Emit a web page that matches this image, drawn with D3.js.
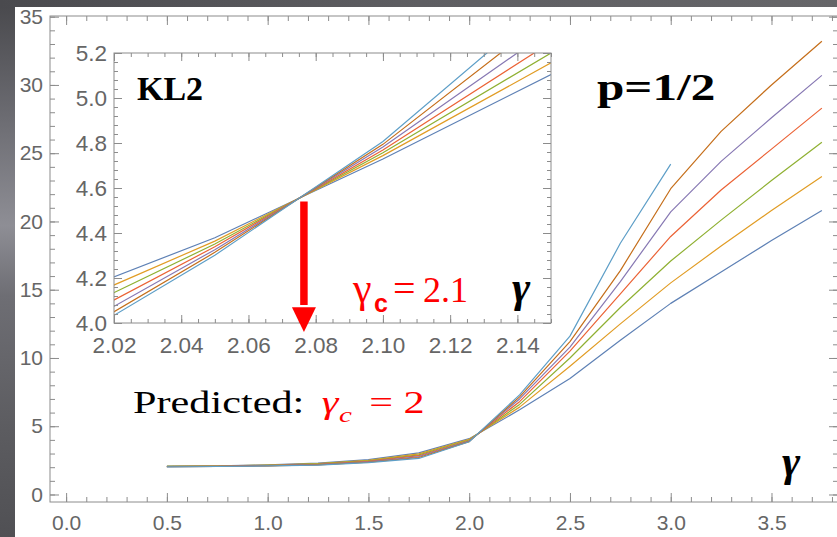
<!DOCTYPE html>
<html>
<head>
<meta charset="utf-8">
<script src="https://cdn.jsdelivr.net/npm/d3@7"></script>
<style>
  body { margin: 0; background: #5a5a5e; }
  svg { display: block; }
</style>
</head>
<body>
<script>
// ---- data ----
const gammaMain = [0.5, 0.75, 1.0, 1.25, 1.5, 1.75, 2.0, 2.25, 2.5, 2.75, 3.0, 3.25, 3.5, 3.75];
const series1 = [2.08, 2.10, 2.18, 2.30, 2.55, 3.05, 4.09, 6.20, 8.50, 11.3, 14.0, 16.3, 18.6, 20.8];
const series2 = [2.07, 2.09, 2.16, 2.27, 2.50, 2.98, 4.04, 6.40, 9.40, 12.5, 15.5, 18.2, 20.8, 23.3];
const series3 = [2.06, 2.08, 2.14, 2.24, 2.46, 2.90, 3.99, 6.60, 10.0, 13.7, 17.1, 20.1, 23.0, 25.8];
const series4 = [2.05, 2.07, 2.12, 2.21, 2.42, 2.84, 3.94, 6.80, 10.5, 14.7, 18.9, 22.3, 25.3, 28.3];
const series5 = [2.04, 2.06, 2.11, 2.19, 2.39, 2.78, 3.91, 7.00, 10.8, 15.6, 20.7, 24.4, 27.6, 30.7];
const series6 = [2.04, 2.05, 2.10, 2.17, 2.36, 2.71, 3.87, 7.15, 11.2, 16.4, 22.4, 26.6, 30.0, 33.2];
const series7 = [2.03, 2.05, 2.09, 2.15, 2.33, 2.64, 3.86, 7.30, 11.6, 18.4, 24.2];

// inset (KL2 zoom near the crossing)
const gammaInset = [2.0, 2.05, 2.10, 2.15];
const inset1 = [4.089, 4.379, 4.729, 5.104];
const inset2 = [4.039, 4.364, 4.744, 5.156];
const inset3 = [3.991, 4.351, 4.757, 5.200];
const inset4 = [3.944, 4.339, 4.769, 5.248];
const inset5 = [3.906, 4.326, 4.782, 5.305];
const inset6 = [3.874, 4.314, 4.794, 5.374];
const inset7 = [3.856, 4.301, 4.807, 5.442];

// tick labels
const mainXTicks = [0, 0.5, 1, 1.5, 2, 2.5, 3, 3.5];
const mainYTicks = [0, 5, 10, 15, 20, 25, 30, 35];
const insetXTicks = [2.02, 2.04, 2.06, 2.08, 2.10, 2.12, 2.14];
const insetYTicks = [4.0, 4.2, 4.4, 4.6, 4.8, 5.0, 5.2];

const colors = ["#5E81B5", "#E19C24", "#8FB032", "#EB6235", "#8778B3", "#C56E1A", "#5D9EC7"];

const mainSeries = [series1, series2, series3, series4, series5, series6, series7];
const insetSeries = [inset1, inset2, inset3, inset4, inset5, inset6, inset7];

// ---- svg ----
const dims = { width: 837, height: 537 };
const svg = d3.select("body").append("svg")
  .attr("width", dims.width)
  .attr("height", dims.height);

const defs = svg.append("defs");

// slide background (dark gradient)
const bg = defs.append("linearGradient").attr("id", "bg")
  .attr("x1", 0).attr("y1", 0).attr("x2", 0).attr("y2", 1);
[[0, "#48484c"], [0.22, "#6c6c72"], [0.42, "#8e8e95"], [0.55, "#6e6e74"], [0.8, "#5c5c60"], [1, "#505054"]]
  .forEach(s => bg.append("stop").attr("offset", s[0]).attr("stop-color", s[1]));
const bgTop = defs.append("linearGradient").attr("id", "bgTop")
  .attr("x1", 0).attr("y1", 0).attr("x2", 1).attr("y2", 0);
[[0, "#4a4a4e"], [0.5, "#5e5e62"], [1, "#666669"]]
  .forEach(s => bgTop.append("stop").attr("offset", s[0]).attr("stop-color", s[1]));

svg.append("rect").attr("width", dims.width).attr("height", dims.height).attr("fill", "url(#bg)");
svg.append("rect").attr("width", dims.width).attr("height", 7).attr("fill", "url(#bgTop)");
svg.append("rect").attr("x", 15).attr("y", 7)
  .attr("width", dims.width - 15).attr("height", dims.height - 7).attr("fill", "#fff");

// ---- scales ----
const main = { left: 50, right: 838, top: 16, bottom: 502 };
const x = d3.scaleLinear().domain([-0.08, 3.83]).range([main.left, main.right]);
const y = d3.scaleLinear().domain([-0.55, 35.05]).range([main.bottom, main.top]);

const ins = { left: 114, right: 551, top: 53, bottom: 323 };
const xi = d3.scaleLinear().domain([2.02, 2.15]).range([ins.left, ins.right]);
const yi = d3.scaleLinear().domain([4.0, 5.2]).range([ins.bottom, ins.top]);

// mathematica-like frame: inward ticks on all four sides
function frame(g, box, sx, sy, o) {
  const frameCol = "#8c8c8c";
  const put = (axis, tx, ty) => {
    const a = g.append("g").attr("transform", `translate(${tx},${ty})`).call(axis);
    a.select(".domain").remove();
    a.selectAll("line").attr("stroke", frameCol).attr("stroke-width", 1);
    a.selectAll("text")
      .attr("fill", "#666")
      .style("font-family", "'Liberation Sans', Arial, sans-serif")
      .style("font-size", o.fontSize + "px");
    return a;
  };
  put(d3.axisBottom(sx).tickValues(o.xMinor).tickSize(-o.minor).tickFormat(""), 0, box.bottom);
  put(d3.axisBottom(sx).tickValues(o.xMajor).tickSize(-o.major).tickPadding(o.xPad).tickFormat(o.xFmt), 0, box.bottom);
  put(d3.axisTop(sx).tickValues(o.xMinor).tickSize(-o.minor).tickFormat(""), 0, box.top);
  put(d3.axisTop(sx).tickValues(o.xMajor).tickSize(-o.major).tickFormat(""), 0, box.top);
  put(d3.axisLeft(sy).tickValues(o.yMinor).tickSize(-o.minor).tickFormat(""), box.left, 0);
  put(d3.axisLeft(sy).tickValues(o.yMajor).tickSize(-o.major).tickPadding(o.yPad).tickFormat(o.yFmt), box.left, 0);
  put(d3.axisRight(sy).tickValues(o.yMinor).tickSize(-o.minor).tickFormat(""), box.right, 0);
  put(d3.axisRight(sy).tickValues(o.yMajor).tickSize(-o.major).tickFormat(""), box.right, 0);
  g.append("rect")
    .attr("x", box.left).attr("y", box.top)
    .attr("width", box.right - box.left).attr("height", box.bottom - box.top)
    .attr("fill", "none").attr("stroke", frameCol).attr("stroke-width", 1);
}

const line = (sx, sy, xs) => d3.line().x((d, i) => sx(xs[i])).y(d => sy(d));

// ---- main plot ----
defs.append("clipPath").attr("id", "clipMain").append("rect")
  .attr("x", main.left).attr("y", main.top)
  .attr("width", main.right - main.left).attr("height", main.bottom - main.top);

const mainG = svg.append("g");
mainG.append("g").attr("clip-path", "url(#clipMain)")
  .selectAll("path").data(mainSeries).enter()
  .append("path")
    .attr("d", line(x, y, gammaMain))
    .attr("fill", "none")
    .attr("stroke", (d, i) => colors[i])
    .attr("stroke-width", 1.2)
    .attr("stroke-linejoin", "round");

frame(mainG, main, x, y, {
  xMajor: mainXTicks, xMinor: d3.range(0, 3.85, 0.1),
  yMajor: mainYTicks, yMinor: d3.range(0, 36, 1),
  major: 9, minor: 5, xPad: 13, yPad: 7, fontSize: 21,
  xFmt: d3.format(".1f"), yFmt: d3.format("d")
});

// ---- inset ----
const insG = svg.append("g");
insG.append("rect")
  .attr("x", ins.left).attr("y", ins.top)
  .attr("width", ins.right - ins.left).attr("height", ins.bottom - ins.top)
  .attr("fill", "#fff");

defs.append("clipPath").attr("id", "clipInset").append("rect")
  .attr("x", ins.left).attr("y", ins.top)
  .attr("width", ins.right - ins.left).attr("height", ins.bottom - ins.top);

insG.append("g").attr("clip-path", "url(#clipInset)")
  .selectAll("path").data(insetSeries).enter()
  .append("path")
    .attr("d", line(xi, yi, gammaInset))
    .attr("fill", "none")
    .attr("stroke", (d, i) => colors[i])
    .attr("stroke-width", 1.2);

frame(insG, ins, xi, yi, {
  xMajor: insetXTicks, xMinor: d3.range(2.02, 2.151, 0.005),
  yMajor: insetYTicks, yMinor: d3.range(4.0, 5.201, 0.04),
  major: 8, minor: 4, xPad: 14, yPad: 7, fontSize: 22.5,
  xFmt: d3.format(".2f"), yFmt: d3.format(".1f")
});

// ---- annotations ----
const serif = "'Liberation Serif', 'Times New Roman', serif";

svg.append("text").attr("x", 137).attr("y", 100)
  .attr("font-family", serif).attr("font-weight", "bold").attr("font-size", 34)
  .text("KL2");

svg.append("text").attr("transform", "translate(597,100) scale(1.33,1)")
  .attr("font-family", serif).attr("font-weight", "bold").attr("font-size", 37)
  .text("p=1/2");

// axis symbol gamma (main + inset)
[[782, 476], [512, 302]].forEach(p => {
  svg.append("text").attr("x", p[0]).attr("y", p[1])
    .attr("font-family", serif).attr("font-style", "italic").attr("font-weight", "bold")
    .attr("font-size", 44)
    .text("γ");
});

// red arrow at the crossing
const ax = xi(2.0765);
svg.append("line")
  .attr("x1", ax).attr("x2", ax)
  .attr("y1", yi(4.54)).attr("y2", yi(4.08))
  .attr("stroke", "#ff0000").attr("stroke-width", 7.5);
svg.append("path")
  .attr("d", `M${ax - 12},${yi(4.07)} L${ax + 12},${yi(4.07)} L${ax},${yi(3.96)} Z`)
  .attr("fill", "#ff0000");

// gamma_c = 2.1
const gc = svg.append("g").attr("fill", "#ff0000");
gc.append("text").attr("x", 353).attr("y", 302)
  .attr("font-family", serif).attr("font-size", 42).text("γ");
gc.append("text").attr("x", 374).attr("y", 312)
  .attr("font-family", "'Liberation Sans', Arial, sans-serif").attr("font-weight", "bold")
  .attr("font-size", 25).text("c");
gc.append("text").attr("x", 393).attr("y", 302)
  .attr("font-family", serif).attr("font-size", 40).text("=");
gc.append("text").attr("x", 423).attr("y", 302)
  .attr("font-family", serif).attr("font-size", 36).text("2.1");

// Predicted: gamma_c = 2
const pr = svg.append("g").attr("transform", "translate(133,413) scale(1.32,1)")
  .attr("font-family", serif).attr("font-size", 32);
pr.append("text").attr("x", 0).attr("y", 0).attr("fill", "#000").text("Predicted:");
pr.append("text").attr("x", 143).attr("y", 0).attr("fill", "#ff0000")
  .attr("font-style", "italic").text("γ");
pr.append("text").attr("x", 156).attr("y", 9).attr("fill", "#ff0000")
  .attr("font-style", "italic").attr("font-size", 22).text("c");
pr.append("text").attr("x", 179).attr("y", 0).attr("fill", "#ff0000").text("=");
pr.append("text").attr("x", 205).attr("y", 0).attr("fill", "#ff0000").text("2");
</script>
</body>
</html>
